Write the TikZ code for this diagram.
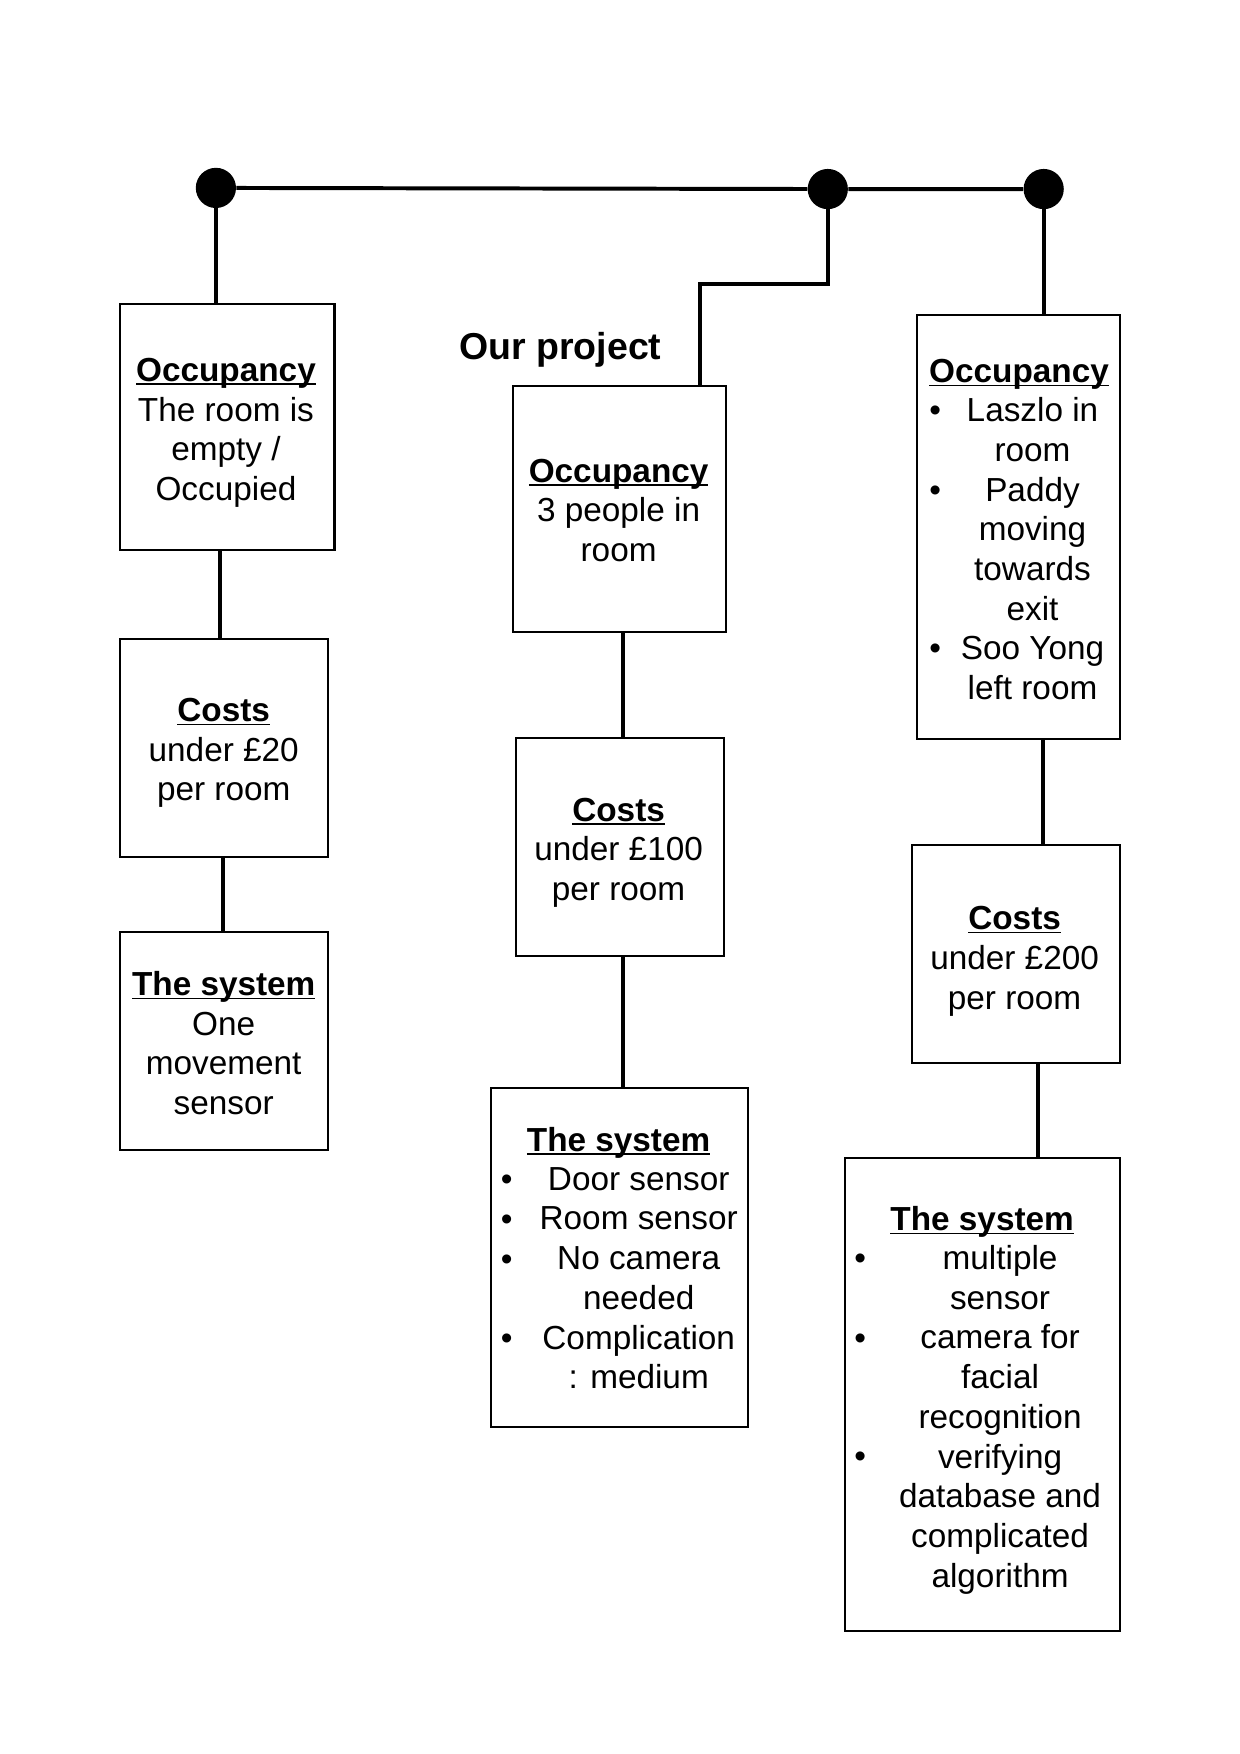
\documentclass[tikz,border=0pt]{standalone}
\usepackage{fontspec}
\setmainfont{Liberation Sans}
\usetikzlibrary{fit}
\newcommand\headu[1]{{\setbox0\hbox{\bfseries #1}\rlap{\rule[-1.8pt]{\wd0}{0.8pt}}\box0}}
\begin{document}
\begin{tikzpicture}[x=0.537pt, y=-0.537pt,
  box/.style={draw, line width=1pt, inner sep=0pt},
  conn/.style={line width=1.9pt},
  dot/.style={circle, fill=black, inner sep=0pt, minimum size=19.3pt},
  txt/.style={align=center, inner sep=0pt, font=\fontsize{16}{19.07}\selectfont, anchor=base},
  bul/.style={inner sep=0pt, font=\fontsize{16}{19.07}\selectfont, anchor=base},
  ttl/.style={inner sep=0pt, font=\fontsize{18}{21}\selectfont\bfseries, anchor=base}]
\useasboundingbox[fill=white] (0,0) rectangle (1108,1568);

% dots
\node[dot] (d1) at (193,168) {};
\node[dot] (d2) at (740,169) {};
\node[dot] (d3) at (933,169) {};

% boxes
\node[box, fit={(107,272) (299,492)}] (b1) {};
\node[box, fit={(107,571) (293,766)}] (b2) {};
\node[box, fit={(107,833) (293,1028)}] (b3) {};
\node[box, fit={(459,345) (649,565)}] (b4) {};
\node[box, fit={(461,660) (647,855)}] (b5) {};
\node[box, fit={(439,973) (669,1276)}] (b6) {};
\node[box, fit={(820,282) (1001,661)}] (b7) {};
\node[box, fit={(815,755) (1001,950)}] (b8) {};
\node[box, fit={(755,1035) (1001,1458)}] (b9) {};

% connectors
\draw[conn] (d1) -- (d2) -- (d3);
\draw[conn] (d1.center) -- (d1.center |- b1.north);
\coordinate (k) at (626,254);
\draw[conn] (d2.center) |- (k) -- (k |- b4.north);
\draw[conn] (d3.center) -- (d3.center |- b7.north);
\coordinate (c12) at (197,0);
\coordinate (c23) at (199,0);
\coordinate (c45) at (557,0);
\coordinate (c78) at (932,0);
\coordinate (c89) at (928,0);
\draw[conn] (b1.south -| c12) -- (b2.north -| c12);
\draw[conn] (b2.south -| c23) -- (b3.north -| c23);
\draw[conn] (b4.south -| c45) -- (b5.north -| c45);
\draw[conn] (b5.south -| c45) -- (b6.north -| c45);
\draw[conn] (b7.south -| c78) -- (b8.north -| c78);
\draw[conn] (b8.south -| c89) -- (b9.north -| c89);

% title
\node[ttl] (title) at (501,321) {Our project};

% left column (anchor = baseline of last line)
\node[txt] (t1) at (202,447.5) {\headu{Occupancy}\\The room is\\empty /\\Occupied};
\node[txt] (t2) at (200,716) {\headu{Costs}\\under £20\\per room};
\node[txt] (t3) at (200,996.5) {\headu{The system}\\One\\movement\\sensor};

% middle column
\node[txt] (t4) at (553,502) {\headu{Occupancy}\\3 people in\\room};
\node[txt] (t5) at (553,805) {\headu{Costs}\\under £100\\per room};
\node[txt] (t6h) at (553,1029) {\headu{The system}};
\node[txt] (t6) at (571,1241.5) {Door sensor\\Room sensor\\No camera\\needed\\Complication\\: medium};
\node[bul] (u61) at (453,1064) {•};
\node[bul] (u62) at (453,1100) {•};
\node[bul] (u63) at (453,1136) {•};
\node[bul] (u64) at (453,1206) {•};

% right column
\node[txt] (t7h) at (911,342) {\headu{Occupancy}};
\node[txt] (t7) at (923,625.5) {Laszlo in\\room\\Paddy\\moving\\towards\\exit\\Soo Yong\\left room};
\node[bul] (u71) at (836,377) {•};
\node[bul] (u72) at (836,448) {•};
\node[bul] (u73) at (836,590) {•};
\node[txt] (t8) at (907,902) {\headu{Costs}\\under £200\\per room};
\node[txt] (t9h) at (878,1100) {\headu{The system}};
\node[txt] (t9) at (894,1419) {multiple\\sensor\\camera for\\facial\\recognition\\verifying\\database and\\complicated\\algorithm};
\node[bul] (u91) at (769,1135) {•};
\node[bul] (u92) at (769,1206) {•};
\node[bul] (u93) at (769,1312) {•};
\end{tikzpicture}
\end{document}
